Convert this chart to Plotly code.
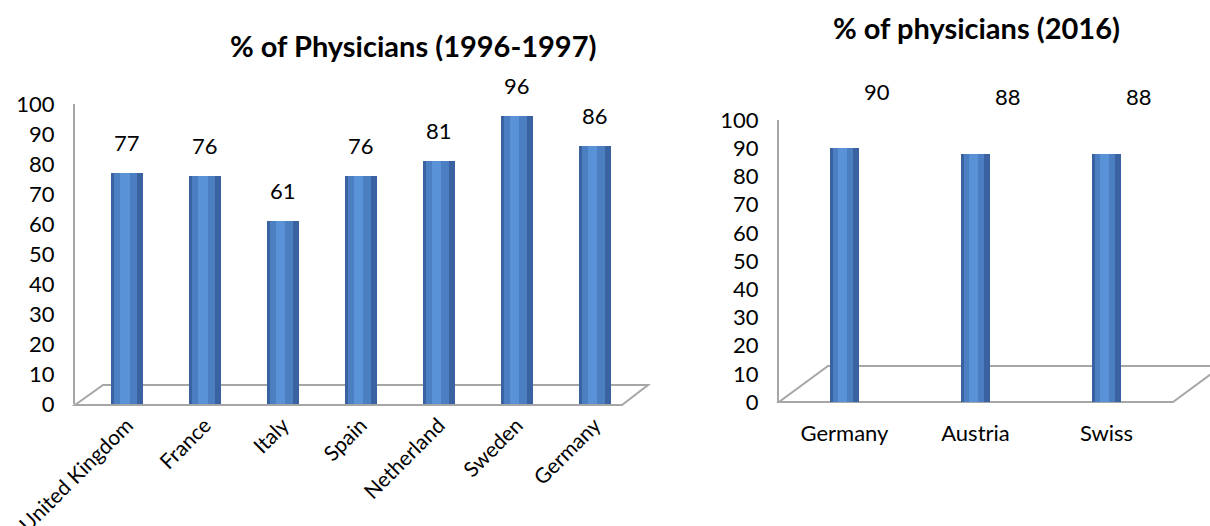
import plotly.graph_objects as go

# ---- data ----
countries_9697 = ["United Kingdom", "France", "Italy", "Spain", "Netherland", "Sweden", "Germany"]
values_9697 = [77, 76, 61, 76, 81, 96, 86]
countries_2016 = ["Germany", "Austria", "Swiss"]
values_2016 = [90, 88, 88]
y_ticks = [0, 10, 20, 30, 40, 50, 60, 70, 80, 90, 100]
title_left = "% of Physicians (1996-1997)"
title_right = "% of physicians (2016)"

W, H = 1210, 526
FONT = "Lato"
DARK = "#3a62a0"
MAIN = "#4b7fc2"
LIGHT = "#5a92d8"
GRID = "#a6a6a6"


def px(x, y):
    return x / W, 1 - y / H


fig = go.Figure()


def cylinder(xs, ys, width, xa, ya):
    layers = [(DARK, width, -width / 2), (MAIN, width * 0.72, -width * 0.40), (LIGHT, width * 0.30, -width * 0.22)]
    for color, w, off in layers:
        fig.add_trace(go.Bar(x=xs, y=ys, width=w, offset=off, marker=dict(color=color, line=dict(width=0)),
                             xaxis=xa, yaxis=ya, showlegend=False, hoverinfo="x+y"))


cylinder(countries_9697, values_9697, 0.41, "x", "y")
cylinder(countries_2016, values_2016, 0.214, "x2", "y2")

# data labels
for c, v in zip(countries_9697, values_9697):
    fig.add_annotation(x=c, y=v, xref="x", yref="y", text=str(v), showarrow=False, yshift=31,
                       font=dict(family=FONT, size=22, color="#000"))
for c, v in zip(countries_2016, values_2016):
    fig.add_annotation(x=c, y=v, xref="x2", yref="y2", text=str(v), showarrow=False, yshift=57, xshift=32,
                       font=dict(family=FONT, size=22, color="#000"))

# titles
fig.add_annotation(x=413 / W, y=1 - 45 / H, xref="paper", yref="paper", text="<b>%s</b>" % title_left,
                   xanchor="center", yanchor="middle",
                   showarrow=False, font=dict(family=FONT, size=29, color="#000"))
fig.add_annotation(x=976 / W, y=1 - 27 / H, xref="paper", yref="paper", text="<b>%s</b>" % title_right,
                   xanchor="center", yanchor="middle",
                   showarrow=False, font=dict(family=FONT, size=29, color="#000"))

# 3D floors (decorative frames)
def floor(pts):
    p = [px(*q) for q in pts]
    path = "M %f %f L %f %f L %f %f L %f %f Z" % (p[0][0], p[0][1], p[1][0], p[1][1], p[2][0], p[2][1], p[3][0], p[3][1])
    fig.add_shape(type="path", path=path, xref="paper", yref="paper", line=dict(color=GRID, width=2), layer="below")

floor([(75, 405), (622, 405), (648, 385), (103, 385)])
floor([(779, 402), (1173, 402), (1222, 366), (828, 366)])

yaxis_common = dict(range=[0, 100], tickvals=y_ticks, showgrid=False, zeroline=False, showline=True,
                    linecolor=GRID, linewidth=2, ticks="", ticklabelstandoff=14, automargin=False,
                    tickfont=dict(family=FONT, size=22, color="#000"), fixedrange=True)

fig.update_layout(
    width=W, height=H,
    margin=dict(l=0, r=0, t=0, b=0),
    paper_bgcolor="white", plot_bgcolor="rgba(0,0,0,0)",
    barmode="overlay", bargap=0,
    xaxis=dict(domain=[75 / W, 622 / W], range=[-0.667, 6.35], showgrid=False, zeroline=False, showline=False,
               ticks="", tickangle=-45, ticklabelstandoff=4, automargin=False,
               tickfont=dict(family=FONT, size=21, color="#000"), anchor="y"),
    yaxis=dict(domain=[1 - 404 / H, 1 - 104 / H], anchor="x", **yaxis_common),
    xaxis2=dict(domain=[779 / W, 1172 / W], range=[-0.5, 2.5], showgrid=False, zeroline=False, showline=False,
                ticks="", ticklabelstandoff=16, automargin=False,
                tickfont=dict(family=FONT, size=22, color="#000"), anchor="y2"),
    yaxis2=dict(domain=[1 - 402 / H, 1 - 120 / H], anchor="x2", **yaxis_common),
)

fig.write_html("out.html", config={"displayModeBar": False},
               post_script="document.body.style.margin='0';document.body.style.overflow='hidden';")
